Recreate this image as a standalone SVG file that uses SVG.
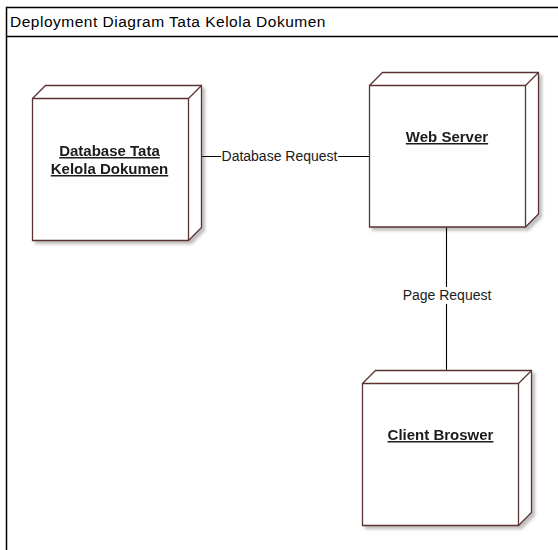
<svg xmlns="http://www.w3.org/2000/svg" width="558" height="550" viewBox="0 0 558 550">
  <style>
    .frame { fill: #ffffff; stroke: #000000; stroke-width: 1.5; }
    .title { font-family: "Liberation Sans", Arial, sans-serif; font-size: 15.5px; letter-spacing: 0.5px; fill: #000000; }
    .cube { fill: #ffffff; stroke: #5a3232; stroke-width: 1.3; stroke-linejoin: miter; }
    .cube-edge { fill: none; stroke: #5a3232; stroke-width: 1.3; }
    .node-label { font-family: "Liberation Sans", Arial, sans-serif; font-size: 15px; font-weight: bold; fill: #1a1a1a; text-decoration: underline; text-anchor: middle; }
    .link { fill: none; stroke: #000000; stroke-width: 1.1; }
    .link-label { font-family: "Liberation Sans", Arial, sans-serif; font-size: 14px; fill: #1a1a1a; text-anchor: middle; }
  </style>
  <defs>
    <filter id="soft-shadow" x="-10%" y="-10%" width="130%" height="130%">
      <feGaussianBlur in="SourceAlpha" stdDeviation="1.6"/>
      <feOffset dx="3" dy="3" result="blur"/>
      <feComponentTransfer><feFuncA type="linear" slope="0.25"/></feComponentTransfer>
      <feMerge><feMergeNode/><feMergeNode in="SourceGraphic"/></feMerge>
    </filter>
  </defs>

  <rect width="558" height="550" fill="#ffffff"/>

  <!-- package frame with title bar -->
  <g id="frame">
    <rect class="frame" x="6.5" y="7.5" width="600" height="600"/>
    <line x1="6.5" y1="36.5" x2="606.5" y2="36.5" stroke="#000000" stroke-width="1.5"/>
    <text class="title" x="10" y="27">Deployment Diagram Tata Kelola Dokumen</text>
  </g>

  <!-- connectors -->
  <g id="connectors">
    <line class="link" x1="188.5" y1="156.5" x2="369.5" y2="156.5"/>
    <rect x="221" y="148" width="117" height="17" fill="#ffffff"/>
    <text class="link-label" x="279.5" y="161">Database Request</text>

    <line class="link" x1="446.5" y1="227.5" x2="446.5" y2="383.5"/>
    <rect x="401" y="287" width="92" height="17" fill="#ffffff"/>
    <text class="link-label" x="447" y="300">Page Request</text>
  </g>

  <!-- database node -->
  <g id="node-database" filter="url(#soft-shadow)">
    <path class="cube" d="M32.5,98.5 L45.5,85.5 L201.5,85.5 L201.5,227.5 L188.5,240.5 L32.5,240.5 Z"/>
    <path class="cube-edge" d="M32.5,98.5 H188.5 V240.5 M188.5,98.5 L201.5,85.5"/>
    <text class="node-label" x="109.5" y="156">Database Tata</text>
    <text class="node-label" x="109.5" y="174">Kelola Dokumen</text>
  </g>

  <!-- web server node -->
  <g id="node-webserver" filter="url(#soft-shadow)">
    <path class="cube" d="M369.5,85.5 L382.5,72.5 L538.5,72.5 L538.5,214 L525.5,227 L369.5,227 Z"/>
    <path class="cube-edge" d="M369.5,85.5 H525.5 V227 M525.5,85.5 L538.5,72.5"/>
    <text class="node-label" x="447" y="142">Web Server</text>
  </g>

  <!-- client browser node -->
  <g id="node-client" filter="url(#soft-shadow)">
    <path class="cube" d="M362.5,383.5 L375.5,370.5 L531.5,370.5 L531.5,512.5 L518.5,525.5 L362.5,525.5 Z"/>
    <path class="cube-edge" d="M362.5,383.5 H518.5 V525.5 M518.5,383.5 L531.5,370.5"/>
    <text class="node-label" x="440.5" y="440">Client Broswer</text>
  </g>
</svg>
